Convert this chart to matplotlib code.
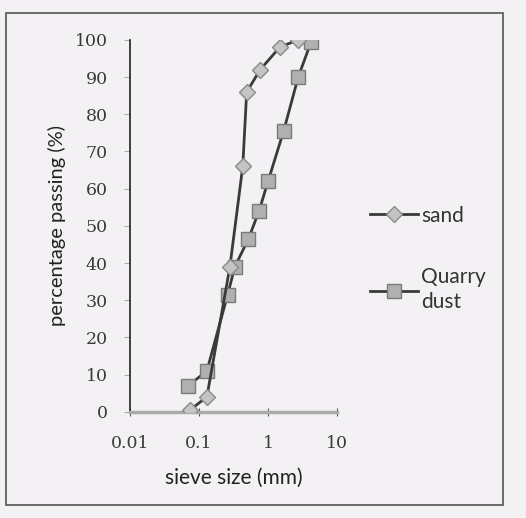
import matplotlib.pyplot as plt
import numpy as np

# sieve analysis, values
sand_size = [0.074, 0.13, 0.28, 0.43, 0.49, 0.77, 1.47, 2.7]
sand_pass = [0.5, 4, 39, 66, 86, 92, 98, 100]

dust_size = [0.07, 0.13, 0.26, 0.33, 0.52, 0.74, 1.0, 1.68, 2.73, 4.2]
dust_pass = [7, 11, 31.5, 39, 46.5, 54, 62, 75.5, 90, 99.5]

y_ticks = list(range(0, 101, 10))
x_ticks = [0.01, 0.1, 1, 10]
x_labels = ['0.01', '0.1', '1', '10']

bg = '#f3f1f4'
fig = plt.figure(figsize=(5.26, 5.18), dpi=100, facecolor=bg)
ax = fig.add_axes([0.247, 0.205, 0.394, 0.718])
ax.set_facecolor(bg)

ax.plot(sand_size, sand_pass, color='#3a3a3a', lw=2, marker='D', ms=8,
        mfc='#c4c4c4', mec='#8a8a8a', mew=1, label='sand', zorder=3)
ax.plot(dust_size, dust_pass, color='#3a3a3a', lw=2, marker='s', ms=10,
        mfc='#b0b0b0', mec='#7a7a7a', mew=1, label='Quarry\ndust', zorder=2)

ax.set_xscale('log')
ax.set_xlim(0.01, 10)
ax.set_ylim(0, 100)
ax.set_xticks(x_ticks)
ax.set_xticklabels(x_labels)
ax.minorticks_off()
ax.set_yticks(y_ticks)

for lab in ax.get_xticklabels() + ax.get_yticklabels():
    lab.set_family('DejaVu Serif')
    lab.set_fontsize(12.5)
    lab.set_color('#3a3a3a')

ax.spines['top'].set_visible(False)
ax.spines['right'].set_visible(False)
ax.spines['left'].set_color('#222222')
ax.spines['left'].set_linewidth(1.2)
ax.spines['bottom'].set_color('#aaaaaa')
ax.spines['bottom'].set_linewidth(2.5)
ax.tick_params(axis='y', direction='out', length=4, color='#aaaaaa', pad=12)
ax.tick_params(axis='x', direction='inout', length=6, color='#555555', pad=14)

ax.set_xlabel('sieve size (mm)', family='Lato', fontsize=15, color='#222222', labelpad=11)
ax.set_ylabel('percentage passing (%)', family='Lato', fontsize=14.5, color='#222222', labelpad=6)

leg = ax.legend(loc='center left', bbox_to_anchor=(0.668, 0.5), bbox_transform=fig.transFigure,
                frameon=False, handlelength=2.3, handletextpad=0.15, labelspacing=2.0,
                prop={'family': 'Lato', 'size': 15})
for t in leg.get_texts():
    t.set_color('#333333')
    t.set_linespacing(1.3)

# printed frame around the chart
fig.add_artist(plt.Rectangle((0.012, 0.025), 0.945, 0.95, transform=fig.transFigure,
                             fill=False, ec='#555555', lw=1.2))

fig.savefig('out.png', dpi=100, facecolor=bg)
